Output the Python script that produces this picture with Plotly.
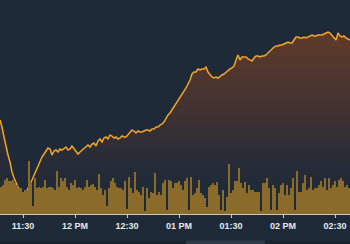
import pandas as pd
import plotly.graph_objects as go

# --- data ---
start_time = "2024-01-02 11:16:44"
step_ms = 69230  # sampling interval of the series

price = [94, 87, 77, 67, 59, 52, 42, 36, 31, 27, 22, 18, 17, 22, 26, 30, 34, 39, 44, 49,
         53, 57, 60, 63, 66, 65, 59, 63, 64, 62, 65, 64, 66, 67, 64, 65, 68, 65, 62, 60,
         62, 64, 66, 67, 69, 67, 70, 71, 68, 73, 75, 72, 76, 77, 75, 79, 78, 76, 77, 75,
         76, 78, 77, 77, 79, 82, 84, 83, 81, 83, 82, 82, 83, 84, 84, 83, 85, 85, 87, 87,
         89, 90, 92, 96, 99, 101, 104, 108, 111, 114, 117, 120, 123, 126, 130, 134, 140, 142, 142, 145,
         144, 145, 145, 147, 142, 139, 137, 136, 137, 136, 138, 139, 140, 142, 144, 145, 146, 148, 154, 159,
         154, 157, 157, 157, 155, 154, 153, 156, 158, 158, 157, 158, 158, 159, 161, 164, 166, 167, 168, 168,
         169, 169, 170, 171, 172, 171, 171, 174, 177, 177, 176, 176, 177, 176, 177, 178, 179, 178, 178, 179,
         179, 179, 180, 181, 182, 181, 179, 176, 174, 181, 178, 177, 178, 176, 175, 174]

volume = [27, 29, 34, 36, 33, 33, 34, 31, 29, 26, 26, 22, 24, 24, 53, 32, 8, 36, 26, 27,
          26, 27, 34, 26, 27, 27, 26, 24, 43, 27, 36, 33, 36, 27, 24, 31, 29, 34, 26, 27,
          26, 24, 27, 34,
          27, 29, 30, 27, 24, 40, 26, 19, 24, 8, 26, 33, 36, 31, 27, 26, 26, 24, 33, 5,
          37, 26, 21, 42, 24, 22, 19, 27, 3, 26, 16, 22, 21, 41, 19, 22, 19, 31, 34, 4,
          34, 33, 26, 31,
          31, 33, 29, 24, 33, 36, 4, 37, 19, 21, 26, 34, 21, 19, 16, 7, 27, 29, 31, 29,
          32, 19, 4, 24, 3, 17, 50, 21, 24, 33, 33, 46, 31, 26, 32, 21, 29, 24, 24, 22,
          22, 22, 3, 31,
          31, 36, 26, 4, 29, 26, 4, 21, 29, 31, 19, 29, 19, 26, 36, 4, 43, 22, 22, 31,
          39, 24, 26, 37, 24, 26, 26, 29, 33, 27, 36, 24, 36, 26, 29, 33, 27, 34, 36, 33,
          27, 29, 26]

tick_times = ["2024-01-02 11:30", "2024-01-02 12:00", "2024-01-02 12:30", "2024-01-02 13:00",
              "2024-01-02 13:30", "2024-01-02 14:00", "2024-01-02 14:30"]
tick_labels = ["11:30", "12 PM", "12:30", "01 PM", "01:30", "02 PM", "02:30"]

x_range = ["2024-01-02 11:16:44", "2024-01-02 14:38:39"]

times = pd.date_range(start_time, periods=len(price), freq=f"{step_ms}ms")
bar_times = times[:len(volume)]

BG = "#1e2a38"

fig = go.Figure()

fig.add_trace(go.Bar(
    x=bar_times, y=volume, yaxis="y2",
    marker=dict(color="#8a6b2a", line=dict(width=0)),
    width=step_ms, offset=0,
    hoverinfo="skip", showlegend=False,
))

fig.add_trace(go.Scatter(
    x=times, y=price, mode="lines",
    line=dict(color="#f2a527", width=1.5),
    fill="tozeroy",
    fillgradient=dict(type="vertical",
                      colorscale=[[0, "rgba(30,42,56,0)"],
                                  [0.55, "rgba(75,52,48,0.75)"],
                                  [1, "rgba(100,60,40,0.95)"]]),
    showlegend=False,
))

fig.update_layout(
    width=350, height=244,
    margin=dict(l=0, r=0, t=0, b=30),
    paper_bgcolor=BG, plot_bgcolor=BG,
    bargap=0,
    xaxis=dict(type="date", range=x_range, showgrid=False, zeroline=False,
               showline=True, linecolor="#c9c9c9", linewidth=1,
               ticks="outside", ticklen=3, tickcolor="#c9c9c9",
               tickvals=tick_times, ticktext=tick_labels,
               tickfont=dict(family="Liberation Sans", size=9, color="#e8e8e8", weight="bold")),
    yaxis=dict(range=[0, 214], visible=False, showgrid=False),
    yaxis2=dict(range=[0, 214], visible=False, overlaying="y", showgrid=False),
    shapes=[
        dict(type="rect", xref="paper", yref="paper", x0=0, x1=1, y0=-0.142, y1=-0.124,
             fillcolor="#19232f", line=dict(width=0), layer="above"),
        dict(type="rect", xref="paper", yref="paper", x0=186/350, x1=265/350, y0=-0.142, y1=-0.124,
             fillcolor="#2e3a48", line=dict(width=0), layer="above"),
    ],
)

fig.write_html("out.html")
